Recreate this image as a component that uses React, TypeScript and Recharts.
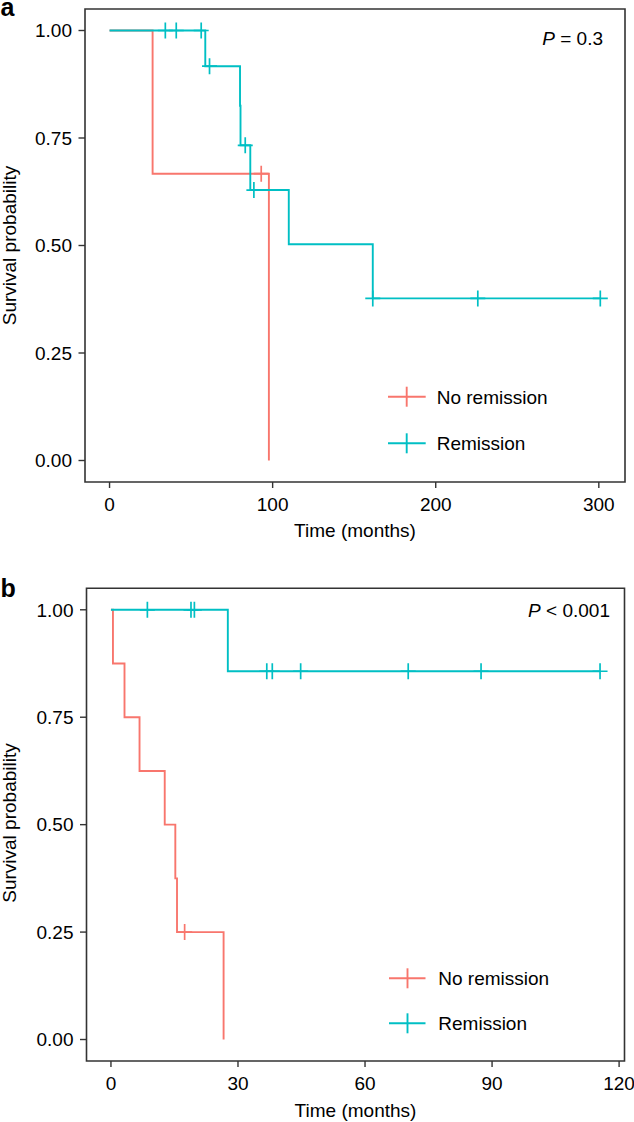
import React from 'react';
import { ComposedChart, Line, Scatter, XAxis, YAxis, ReferenceArea } from 'recharts';

const RED = '#F8766D';
const CYAN = '#00BFC4';
const FRAME = '#333333';
const FONT = '"Liberation Sans", Arial, Helvetica, sans-serif';

// ---------- Panel a ----------
const aNoRemTime = [0, 26.4, 97.7];
const aNoRemSurv = [1, 0.667, 0];
const aNoRemCensorTime = [93.0];
const aNoRemCensorSurv = [0.667];
const aRemTime = [0, 58.7, 80.0, 80.3, 86.3, 109.9, 161.4, 300.9];
const aRemSurv = [1, 0.917, 0.825, 0.733, 0.629, 0.503, 0.377, 0.377];
const aRemCensorTime = [34.2, 40.9, 56.2, 61.3, 83.2, 88.5, 161.4, 225.8, 300.9];
const aRemCensorSurv = [1, 1, 1, 0.917, 0.733, 0.629, 0.377, 0.377, 0.377];
const aXTicks = [0, 100, 200, 300];
const aXDomain = [-15.05, 316.05];

// ---------- Panel b ----------
const bNoRemTime = [0, 0.47, 3.2, 6.75, 12.7, 15.2, 15.6, 26.6];
const bNoRemSurv = [1, 0.875, 0.75, 0.625, 0.5, 0.375, 0.25, 0];
const bNoRemCensorTime = [17.4];
const bNoRemCensorSurv = [0.25];
const bRemTime = [0, 27.6, 115.5];
const bRemSurv = [1, 0.857, 0.857];
const bRemCensorTime = [8.6, 18.9, 19.7, 36.8, 38.1, 44.8, 70.2, 87.4, 115.5];
const bRemCensorSurv = [1, 1, 1, 0.857, 0.857, 0.857, 0.857, 0.857, 0.857];
const bXTicks = [0, 30, 60, 90, 120];
const bXDomain = [-5.775, 121.275];

const yTicks = [0, 0.25, 0.5, 0.75, 1];
const yDomain = [-0.05, 1.05];

const zip = (t: number[], s: number[]) => t.map((x, i) => ({ t: x, s: s[i] }));

const plusShape = (color: string) => (props: any) => {
  const { cx, cy } = props;
  if (cx == null || cy == null) return <g />;
  return (
    <path
      d={`M${cx - 7.5},${cy}H${cx + 7.5}M${cx},${cy - 8}V${cy + 8}`}
      stroke={color}
      strokeWidth={1.7}
      fill="none"
    />
  );
};

type PanelProps = {
  height: number;
  margin: { top: number; right: number; left: number; bottom: number };
  xDomain: number[];
  xTicks: number[];
  noRem: { t: number; s: number }[];
  noRemC: { t: number; s: number }[];
  rem: { t: number; s: number }[];
  remC: { t: number; s: number }[];
};

const tickStyle = { fill: '#000', fontSize: 19, fontFamily: FONT };

function Panel(p: PanelProps) {
  return (
    <ComposedChart width={634} height={p.height} margin={p.margin}>
      <XAxis
        type="number"
        dataKey="t"
        domain={p.xDomain}
        ticks={p.xTicks}
        allowDataOverflow
        height={30}
        axisLine={false}
        tickLine={{ stroke: FRAME, strokeWidth: 1.4 }}
        tickSize={6}
        tickMargin={10}
        tick={tickStyle}
        interval={0}
      />
      <YAxis
        type="number"
        dataKey="s"
        domain={yDomain}
        ticks={yTicks}
        allowDataOverflow
        width={70}
        axisLine={false}
        tickLine={{ stroke: FRAME, strokeWidth: 1.4 }}
        tickSize={6.5}
        tickMargin={6.5}
        tick={tickStyle}
        tickFormatter={(v: number) => v.toFixed(2)}
        interval={0}
      />
      <Line
        data={p.noRem}
        dataKey="s"
        type="stepAfter"
        stroke={RED}
        strokeWidth={1.9}
        dot={false}
        activeDot={false}
        isAnimationActive={false}
      />
      <Line
        data={p.rem}
        dataKey="s"
        type="stepAfter"
        stroke={CYAN}
        strokeWidth={1.9}
        dot={false}
        activeDot={false}
        isAnimationActive={false}
      />
      <Scatter data={p.noRemC} dataKey="s" shape={plusShape(RED)} isAnimationActive={false} />
      <Scatter data={p.remC} dataKey="s" shape={plusShape(CYAN)} isAnimationActive={false} />
      <ReferenceArea
        x1={p.xDomain[0]}
        x2={p.xDomain[1]}
        y1={yDomain[0]}
        y2={yDomain[1]}
        fill="none"
        fillOpacity={0}
        stroke={FRAME}
        strokeWidth={1.6}
        ifOverflow="visible"
      />
    </ComposedChart>
  );
}

function LegendItem({ x1, x2, xp, y, label, color, tx }: any) {
  return (
    <g>
      <line x1={x1} x2={x2} y1={y} y2={y} stroke={color} strokeWidth={1.9} />
      <line x1={xp} x2={xp} y1={y - 10} y2={y + 10} stroke={color} strokeWidth={1.9} />
      <text x={tx} y={y + 6.8} fontSize={19} fontFamily={FONT} fill="#000">
        {label}
      </text>
    </g>
  );
}

export default function App() {
  return (
    <div style={{ position: 'absolute', left: 0, top: 0, width: 634, height: 1122, background: '#fff' }}>
      <div style={{ position: 'absolute', left: 0, top: 0 }}>
        <Panel
          height={560}
          margin={{ top: 9, right: 9, left: 15, bottom: 48 }}
          xDomain={aXDomain}
          xTicks={aXTicks}
          noRem={zip(aNoRemTime, aNoRemSurv)}
          noRemC={zip(aNoRemCensorTime, aNoRemCensorSurv)}
          rem={zip(aRemTime, aRemSurv)}
          remC={zip(aRemCensorTime, aRemCensorSurv)}
        />
      </div>
      <div style={{ position: 'absolute', left: 0, top: 560 }}>
        <Panel
          height={562}
          margin={{ top: 28.3, right: 9.5, left: 16.5, bottom: 31 }}
          xDomain={bXDomain}
          xTicks={bXTicks}
          noRem={zip(bNoRemTime, bNoRemSurv)}
          noRemC={zip(bNoRemCensorTime, bNoRemCensorSurv)}
          rem={zip(bRemTime, bRemSurv)}
          remC={zip(bRemCensorTime, bRemCensorSurv)}
        />
      </div>
      <svg
        width={634}
        height={1122}
        style={{ position: 'absolute', left: 0, top: 0, pointerEvents: 'none' }}
      >
        <text x={0.5} y={16} fontSize={25} fontWeight="bold" fontFamily={FONT} fill="#000">a</text>
        <text x={0.5} y={597} fontSize={25} fontWeight="bold" fontFamily={FONT} fill="#000">b</text>

        <text transform="translate(16,245.5) rotate(-90)" textAnchor="middle" fontSize={19} fontFamily={FONT} fill="#000">
          Survival probability
        </text>
        <text transform="translate(16,823) rotate(-90)" textAnchor="middle" fontSize={19} fontFamily={FONT} fill="#000">
          Survival probability
        </text>

        <text x={355} y={536.6} textAnchor="middle" fontSize={19} fontFamily={FONT} fill="#000">Time (months)</text>
        <text x={355.5} y={1116.6} textAnchor="middle" fontSize={19} fontFamily={FONT} fill="#000">Time (months)</text>

        <text x={603} y={45} textAnchor="end" fontSize={19} fontFamily={FONT} fill="#000">
          <tspan fontStyle="italic">P</tspan> = 0.3
        </text>
        <text x={610} y={616.7} textAnchor="end" fontSize={19} fontFamily={FONT} fill="#000">
          <tspan fontStyle="italic">P</tspan> &lt; 0.001
        </text>

        <LegendItem x1={388} x2={425.7} xp={406.7} y={396.7} tx={436.7} label="No remission" color={RED} />
        <LegendItem x1={388} x2={425.7} xp={406.7} y={443.3} tx={436.7} label="Remission" color={CYAN} />
        <LegendItem x1={389} x2={425.5} xp={407.5} y={978.3} tx={438.3} label="No remission" color={RED} />
        <LegendItem x1={389} x2={425.5} xp={407.5} y={1023.3} tx={438.3} label="Remission" color={CYAN} />
      </svg>
    </div>
  );
}
